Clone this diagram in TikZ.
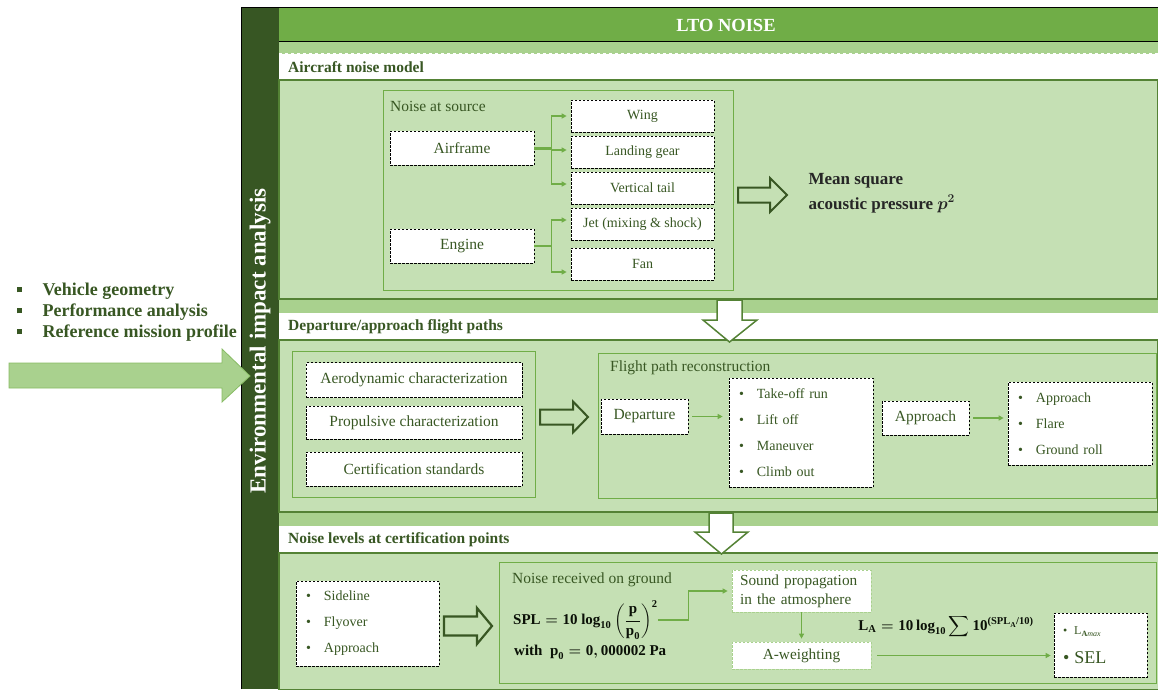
\documentclass[tikz,border=0pt]{standalone}
\usepackage{amsmath}
\usepackage{fontspec}
\setmainfont{Liberation Serif}
\usetikzlibrary{arrows.meta}
\definecolor{bargreen}{HTML}{375623}
\definecolor{headgreen}{HTML}{70AD47}
\definecolor{bandgreen}{HTML}{A9D18E}
\definecolor{bodygreen}{HTML}{C5E0B4}
\definecolor{linegreen}{HTML}{548235}
\definecolor{txtgreen}{HTML}{385723}
\newcommand{\splform}{{\boldmath$\textbf{SPL}=\textbf{10}\ \textbf{log}_{\textbf{10}}\left(\dfrac{\textbf{p}}{\textbf{p}_{\textbf{0}}}\right)^{\textbf{2}}$}}
\newcommand{\prefform}{{\boldmath$\textbf{with}\ \ \textbf{p}_{\textbf{0}}=\textbf{0},\textbf{000002}\ \textbf{Pa}$}}
\newcommand{\laform}{{\boldmath$\textbf{L}_{\textbf{A}}=\textbf{10}\,\textbf{log}_{\textbf{10}}\displaystyle\sum\textbf{10}^{\textbf{(SPL}_{\textbf{A}}\textbf{/10)}}$}}
\tikzset{
  srcbox/.style={draw=black, dash pattern=on 2.5pt off 1.5pt, line width=0.7pt, fill=white,
    text=txtgreen, font=\fontsize{14}{16}\selectfont, inner sep=2pt},
  bigbox/.style={srcbox, font=\fontsize{15.5}{18}\selectfont},
  listbox/.style={srcbox, align=left, inner xsep=10pt, font=\fontsize{14}{26}\selectfont},
  softbox/.style={srcbox, draw=bandgreen, font=\fontsize{15.3}{19}\selectfont},
  frame/.style={draw=headgreen, line width=0.8pt},
  conn/.style={draw=headgreen, line width=1.3pt, -{Triangle[length=5pt,width=5pt]}},
  hollow/.style={draw=txtgreen, line width=2pt, fill=bodygreen, line join=miter},
  downarrow/.style={draw=linegreen, line width=1.5pt, fill=white, line join=miter},
  plain/.style={anchor=west, inner sep=0pt, text=txtgreen, font=\fontsize{15.5}{18}\selectfont},
  sectitle/.style={anchor=west, inner sep=0pt, text=txtgreen, font=\bfseries\fontsize{15.5}{18}\selectfont},
  formula/.style={inner sep=0pt, text=black!80!txtgreen, font=\fontsize{15}{18}\selectfont}
}
\begin{document}
\begin{tikzpicture}[x=1pt, y=-1pt]
    \useasboundingbox (0,0) rectangle (1158,689);
    % outer frame and header
    \fill [bargreen] (241,7) rectangle (279,689);
    \draw [black, line width=0.8pt] (241,689) -- (241,7) -- (1158,7);
    \fill [headgreen] (279,8) rectangle (1158,42);
    \draw [black, line width=1.5pt] (279,42) -- (1158,42);
    \node [text=white, font=\bfseries\fontsize{18.5}{22}\selectfont] (lto) at (726,25) {LTO NOISE};
    \node [rotate=90, text=white, font=\bfseries\fontsize{23}{26}\selectfont] (env) at (260,341) {Environmental impact analysis};

    % section bands
    \fill [bandgreen] (279,42) rectangle (1158,54);
    \fill [white] (279,54) rectangle (1158,80);
    \draw [white, dashed, line width=1pt] (279,53.5) -- (1158,53.5);
    \filldraw [fill=bodygreen, draw=linegreen, line width=1.2pt] (279,80) rectangle (1158,299);
    \fill [bandgreen] (279,299.6) rectangle (1158,313);
    \fill [white] (279,313) rectangle (1158,340);
    \draw [white, dashed, line width=1pt] (279,313) -- (1158,313);
    \filldraw [fill=bodygreen, draw=linegreen, line width=1.2pt] (279,340) rectangle (1158,512);
    \fill [bandgreen] (279,512.6) rectangle (1158,526);
    \fill [white] (279,526) rectangle (1158,553);
    \draw [white, dashed, line width=1pt] (279,526) -- (1158,526);
    \filldraw [fill=bodygreen, draw=linegreen, line width=1.2pt] (279,553) rectangle (1159,690);
    \node [sectitle] (t1) at (288,67) {Aircraft noise model};
    \node [sectitle] (t2) at (288,327) {Departure/approach flight paths};
    \node [sectitle] (t3) at (288,540) {Noise levels at certification points};

    % inputs on the left
    \node [anchor=west, align=left, text=txtgreen, font=\bfseries\fontsize{18}{21}\selectfont] (inputs) at (13,312)
        {\raisebox{3pt}{\rule{5pt}{5pt}}\hspace{21pt}Vehicle geometry\\
         \raisebox{3pt}{\rule{5pt}{5pt}}\hspace{21pt}Performance analysis\\
         \raisebox{3pt}{\rule{5pt}{5pt}}\hspace{21pt}Reference mission profile};
    \draw [fill=bandgreen, draw=headgreen!60!bandgreen, line width=0.8pt] (9,363) -- (222,363) -- (222,349) -- (250,376)
        -- (222,402) -- (222,388) -- (9,388) -- cycle;

    % aircraft noise model
    \draw [frame] (383,90) rectangle (733,290);
    \node [plain] (srctitle) at (390,106) {Noise at source};
    \node [bigbox, minimum width=144, minimum height=34] (airframe) at (462,148) {Airframe};
    \node [bigbox, minimum width=144, minimum height=34] (engine) at (462,246) {Engine};
    \node [srcbox, minimum width=143, minimum height=32] (wing) at (642.5,116) {Wing};
    \node [srcbox, minimum width=143, minimum height=32] (gear) at (642.5,152) {Landing gear};
    \node [srcbox, minimum width=143, minimum height=32] (tail) at (642.5,188) {Vertical tail};
    \node [srcbox, minimum width=143, minimum height=32] (jet) at (642.5,224) {Jet (mixing \& shock)};
    \node [srcbox, minimum width=143, minimum height=32] (fan) at (642.5,264) {Fan};
    \draw [headgreen, line width=3pt] (airframe.east) -- ++(17,0) coordinate (afork);
    \draw [conn] (afork) |- ([xshift=-4pt]wing.west);
    \draw [conn] (afork) |- ([xshift=-4pt, yshift=2pt]gear.west);
    \draw [conn] (afork) |- ([xshift=-4pt, yshift=4pt]tail.west);
    \draw [headgreen, line width=1.3pt] (engine.east) -- ++(17,0) coordinate (efork);
    \draw [conn] (efork) |- ([xshift=-4pt, yshift=4pt]jet.west);
    \draw [conn] (efork) |- ([xshift=-4pt, yshift=-8pt]fan.west);
    \draw [hollow] (738,187.5) -- (770,187.5) -- (770,178) -- (787,195) -- (770,212) -- (770,202.5) -- (738,202.5) -- cycle;
    \node [anchor=west, align=left, text=black!85, font=\bfseries\fontsize{17}{25}\selectfont] (pressure) at (805,193)
        {Mean square\\acoustic pressure {\boldmath$p^2$}};
    \draw [downarrow] (717,300) -- (742,300) -- (742,320) -- (757,320) -- (729.5,342) -- (703,320) -- (717,320) -- cycle;

    % departure/approach flight paths
    \draw [frame] (292,351) rectangle (535,497);
    \node [bigbox, minimum width=216, minimum height=35] (aero) at (414,380) {Aerodynamic characterization};
    \node [bigbox, minimum width=216, minimum height=33] (propul) at (414,422.5) {Propulsive characterization};
    \node [bigbox, minimum width=216, minimum height=34] (cert) at (414,469) {Certification standards};
    \draw [hollow] (540,409.5) -- (573,409.5) -- (573,401.5) -- (588,417) -- (573,432.5) -- (573,424.5) -- (540,424.5) -- cycle;
    \draw [frame] (598,353) rectangle (1156,498);
    \node [plain] (fptitle) at (610,368) {Flight path reconstruction};
    \node [bigbox, minimum width=87, minimum height=35] (departure) at (644.5,416.5) {Departure};
    \node [listbox, text width=124, minimum height=109] (depsteps) at (801,432.5)
        {\textbullet\hspace{13pt}Take-off run\\ \textbullet\hspace{13pt}Lift off\\
         \textbullet\hspace{13pt}Maneuver\\ \textbullet\hspace{13pt}Climb out};
    \node [bigbox, minimum width=87, minimum height=34] (approach) at (925.5,418) {Approach};
    \node [listbox, text width=124, minimum height=83] (appsteps) at (1080,423.5)
        {\textbullet\hspace{13pt}Approach\\ \textbullet\hspace{13pt}Flare\\ \textbullet\hspace{13pt}Ground roll};
    \draw [conn, shorten <=4pt, shorten >=6pt] (departure) -- (departure -| depsteps.west);
    \draw [conn, shorten <=4pt, shorten >=4pt] (approach) -- (approach -| appsteps.west);
    \draw [downarrow] (709,513) -- (733,513) -- (733,532) -- (748,532) -- (721.5,554) -- (695,532) -- (709,532) -- cycle;

    % noise levels at certification points
    \node [listbox, text width=123, minimum height=85] (points) at (367.5,623.5)
        {\textbullet\hspace{13pt}Sideline\\ \textbullet\hspace{13pt}Flyover\\ \textbullet\hspace{13pt}Approach};
    \draw [hollow, line width=2.2pt] (444,616.5) -- (477,616.5) -- (477,608) -- (492,626) -- (477,644) -- (477,635.5) -- (444,635.5) -- cycle;
    \draw [frame] (499,562) rectangle (1156,683);
    \node [plain] (grtitle) at (512,580) {Noise received on ground};
    \node [formula, anchor=west] (spl) at (513,620) {\splform};
    \node [formula, anchor=west] (pref) at (514,652) {\prefform};
    \node [softbox, align=left, text width=123, minimum height=42, inner xsep=8pt] (propag) at (801.5,591)
        {Sound propagation\\in the atmosphere};
    \node [softbox, minimum width=139, minimum height=27] (aweight) at (801.5,655.5) {A-weighting};
    \node [listbox, text width=75, minimum height=64, inner xsep=9pt] (levels) at (1100.5,645)
        {{\fontsize{12}{14}\selectfont\textbullet\hspace{7pt}L\textsubscript{\textbf{A}\textit{max}}}\\[3pt]
         {\fontsize{18}{20}\selectfont\textbullet\hspace{5pt}SEL}};
    \node [formula] (lform) at (946,627) {\laform};
    \draw [conn, shorten >=4pt] (spl.east) -- ++(31,0) |- (propag.west);
    \draw [conn, shorten >=3pt] (propag.south) -- (aweight.north);
    \draw [conn, shorten <=6pt, shorten >=3pt] (aweight.east) -- (aweight -| levels.west);
\end{tikzpicture}
\end{document}
